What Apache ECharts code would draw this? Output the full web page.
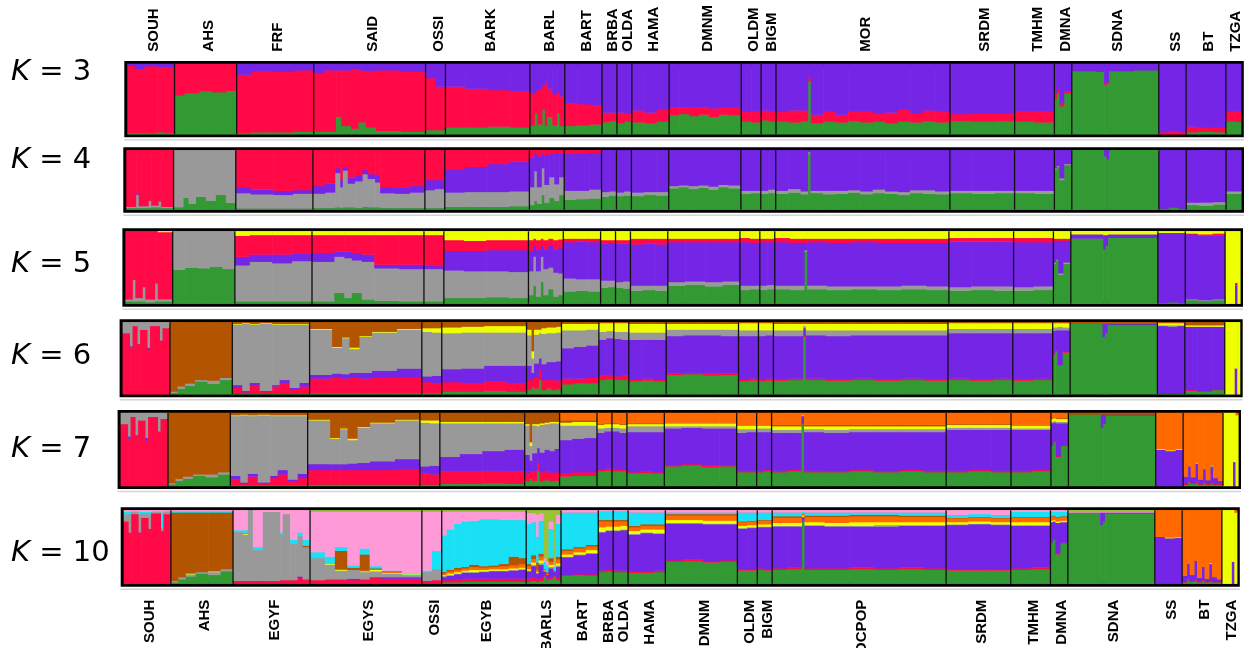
<!DOCTYPE html>
<html><head><meta charset="utf-8">
<script src="https://cdn.jsdelivr.net/npm/echarts@6/dist/echarts.min.js"></script>
<style>html,body{margin:0;padding:0;background:#fff;}#c{width:1246px;height:648px;}</style>
</head><body><div id="c"></div>
<script>
// ---------- data ----------
const populationsTop = ['SOUH','AHS','FRF','SAID','OSSI','BARK','BARL','BART','BRBA','OLDA','HAMA','DMNM','OLDM','BIGM','MOR','SRDM','TMHM','DMNA','SDNA','SS','BT','TZGA'];
const populationsBottom = ['SOUH','AHS','EGYF','EGYS','OSSI','EGYB','BARLS','BART','BRBA','OLDA','HAMA','DMNM','OLDM','BIGM','OCPOP','SRDM','TMHM','DMNA','SDNA','SS','BT','TZGA'];
const sampleSizes = [19,25,31,45,8,34,14,15,6,6,15,29,8,6,70,26,16,7,35,11,16,6];
const kValues = [3,4,5,6,7,10];
const clusterColors = {green:'#339933', red:'#FF0A47', purple:'#7425E6', gray:'#999999', yellow:'#EEFF00', brown:'#B35400', orange:'#FF6A00', pink:'#FF9AD9', cyan:'#19E0F5', olive:'#9BC136'};

// stacking order (bottom -> top) of the clusters for each K
const orderK3 = ['green','red','purple'];
const orderK4 = ['green','gray','purple','red'];
const orderK5 = ['green','gray','purple','red','yellow'];
const orderK6 = ['green','red','purple','gray','yellow','brown'];
const orderK7 = ['green','red','purple','gray','yellow','brown','orange'];
const orderK10 = ['green','red','purple','gray','yellow','orange','brown','cyan','pink','olive'];

// per population: runs of individuals [count, q1..qK]
const blocksK3 = [
 [[3,.02,.96,.02],[4,.02,.90,.08],[5,.02,.95,.03],[3,.03,.92,.05],[4,.02,.94,.04]],
 [[4,.55,.45,0],[6,.58,.42,0],[5,.61,.39,0],[6,.60,.40,0],[4,.62,.38,0]],
 [[6,.02,.83,.15],[8,.03,.87,.10],[9,.03,.86,.11],[8,.04,.87,.09]],
 [[4,.04,.83,.13],[5,.04,.87,.09],[2,.25,.66,.09],[4,.12,.79,.09],[3,.08,.84,.08],[3,.17,.74,.09],[4,.1,.8,.1],[10,.05,.86,.09],[10,.04,.85,.11]],
 [[4,.06,.74,.20],[4,.06,.62,.32]],
 [[8,.10,.58,.32],[9,.1,.55,.35],[9,.11,.52,.37],[8,.1,.52,.38]],
 [[2,.12,.47,.41],[1,.3,.3,.4],[2,.14,.5,.36],[1,.35,.35,.3],[1,.12,.62,.26],[2,.25,.4,.35],[2,.13,.44,.43],[1,.3,.3,.4],[2,.12,.42,.46]],
 [[5,.12,.32,.56],[5,.13,.30,.57],[5,.14,.28,.58]],
 [[3,.17,.14,.69],[3,.19,.12,.69]],
 [[3,.16,.15,.69],[3,.18,.12,.70]],
 [[5,.17,.17,.66],[5,.16,.15,.69],[5,.18,.17,.65]],
 [[4,.27,.11,.62],[4,.29,.09,.62],[4,.26,.13,.61],[4,.28,.1,.62],[4,.25,.12,.63],[4,.28,.11,.61],[5,.27,.12,.61]],
 [[4,.18,.14,.68],[4,.17,.16,.67]],
 [[3,.2,.14,.66],[3,.18,.15,.67]],
 [[5,.18,.14,.68],[5,.17,.17,.66],[3,.19,.15,.66],[1,.75,.05,.2],[5,.16,.12,.72],[5,.18,.15,.67],[5,.17,.11,.72],[5,.19,.14,.67],[5,.17,.16,.67],[5,.18,.12,.70],[5,.16,.15,.69],[5,.18,.17,.65],[5,.17,.13,.70],[5,.19,.15,.66],[6,.17,.16,.67]],
 [[9,.19,.10,.71],[9,.18,.12,.70],[8,.19,.11,.70]],
 [[8,.18,.15,.67],[8,.17,.16,.67]],
 [[1,.5,.08,.42],[1,.58,.06,.36],[2,.4,.05,.55],[3,.58,.03,.39]],
 [[10,.90,0,.10],[3,.89,0,.11],[1,.7,.02,.28],[1,.72,.02,.26],[10,.9,0,.1],[10,.91,0,.09]],
 [[4,0,.03,.97],[4,0,.05,.95],[3,0,.03,.97]],
 [[5,.03,.08,.89],[6,.04,.06,.90],[5,.03,.07,.90]],
 [[6,.18,.15,.67]]
];
const blocksK4 = [
 [[4,.03,.02,0,.95],[1,.03,.22,.02,.73],[4,.03,.03,0,.94],[1,.03,.12,0,.85],[3,.04,.03,0,.93],[1,.04,.1,0,.86],[5,.03,.02,0,.95]],
 [[4,.04,.96,0,0],[2,.2,.8,0,0],[3,.1,.9,0,0],[4,.22,.78,0,0],[4,.15,.85,0,0],[4,.25,.75,0,0],[4,.12,.88,0,0]],
 [[6,.02,.26,.1,.62],[9,.02,.24,.08,.66],[8,.02,.23,.07,.68],[8,.02,.25,.06,.67]],
 [[5,.03,.24,.13,.60],[4,.03,.26,.15,.56],[2,.04,.58,.08,.30],[1,.03,.35,.12,.5],[2,.04,.62,.06,.28],[3,.04,.4,.1,.46],[3,.03,.45,.1,.42],[2,.05,.55,.07,.33],[3,.04,.48,.08,.4],[2,.04,.42,.12,.42],[6,.03,.25,.1,.62],[6,.03,.24,.1,.63],[6,.03,.26,.11,.6]],
 [[4,.03,.3,.17,.5],[4,.03,.32,.15,.5]],
 [[8,.05,.24,.39,.32],[9,.05,.25,.42,.28],[9,.05,.25,.47,.23],[8,.06,.25,.5,.19]],
 [[2,.08,.3,.5,.12],[1,.15,.5,.3,.05],[2,.1,.28,.52,.1],[1,.25,.45,.25,.05],[2,.12,.3,.5,.08],[2,.2,.35,.4,.05],[2,.15,.28,.52,.05],[2,.25,.3,.4,.05]],
 [[5,.17,.15,.62,.06],[5,.18,.14,.63,.05],[5,.19,.15,.62,.04]],
 [[3,.22,.08,.7,0],[3,.24,.07,.69,0]],
 [[3,.23,.06,.71,0],[3,.24,.07,.69,0]],
 [[5,.23,.06,.71,0],[5,.25,.05,.70,0],[5,.24,.06,.70,0]],
 [[4,.36,.04,.60,0],[4,.38,.03,.59,0],[4,.35,.05,.6,0],[4,.37,.04,.59,0],[4,.34,.05,.61,0],[4,.38,.04,.58,0],[5,.36,.05,.59,0]],
 [[4,.27,.05,.68,0],[4,.28,.04,.68,0]],
 [[3,.27,.05,.68,0],[3,.28,.06,.66,0]],
 [[5,.27,.05,.68,0],[5,.29,.06,.65,0],[3,.26,.05,.69,0],[1,.95,.02,.03,0],[5,.28,.04,.68,0],[5,.26,.06,.68,0],[5,.27,.05,.68,0],[5,.29,.04,.67,0],[5,.26,.05,.69,0],[5,.28,.06,.66,0],[5,.27,.04,.69,0],[5,.25,.05,.70,0],[5,.28,.05,.67,0],[5,.27,.06,.67,0],[6,.26,.05,.69,0]],
 [[9,.28,.04,.68,0],[9,.27,.05,.68,0],[8,.28,.04,.68,0]],
 [[8,.28,.04,.68,0],[8,.27,.05,.68,0]],
 [[1,.68,.02,.30,0],[1,.72,.02,.26,0],[2,.5,.03,.47,0],[3,.75,.02,.23,0]],
 [[13,1,0,0,0],[1,.9,0,.1,0],[1,.85,0,.15,0],[20,1,0,0,0]],
 [[4,.02,0,.98,0],[4,.04,0,.96,0],[3,.02,0,.98,0]],
 [[5,.08,.04,.88,0],[6,.07,.05,.88,0],[5,.09,.04,.87,0]],
 [[6,.27,.04,.69,0]]
];
const blocksK5 = [
 [[3,.03,.03,0,.94,0],[1,.03,.3,0,.67,0],[3,.03,.05,0,.92,0],[1,.03,.2,0,.77,0],[4,.02,.04,0,.94,0],[1,.03,.25,0,.72,0],[6,.03,.03,0,.93,.01]],
 [[5,.47,.53,0,0,0],[5,.5,.5,0,0,0],[5,.49,.51,0,0,0],[5,.51,.49,0,0,0],[5,.48,.52,0,0,0]],
 [[6,.03,.5,.12,.29,.06],[9,.03,.55,.1,.27,.05],[8,.03,.53,.12,.27,.05],[8,.03,.56,.1,.26,.05]],
 [[9,.03,.55,.12,.25,.05],[4,.15,.5,.07,.23,.05],[3,.08,.55,.09,.23,.05],[4,.15,.45,.1,.25,.05],[5,.06,.52,.1,.27,.05],[10,.04,.45,.05,.41,.05],[10,.03,.45,.06,.41,.05]],
 [[4,.03,.45,.05,.42,.05],[4,.03,.45,.04,.43,.05]],
 [[8,.08,.38,.27,.15,.12],[9,.08,.37,.28,.14,.13],[9,.09,.36,.29,.14,.12],[8,.08,.36,.3,.14,.12]],
 [[2,.12,.33,.28,.15,.12],[1,.25,.4,.15,.1,.1],[2,.1,.35,.3,.13,.12],[1,.3,.35,.15,.1,.1],[2,.12,.36,.27,.13,.12],[2,.2,.3,.3,.1,.1],[2,.1,.33,.32,.13,.12],[2,.12,.3,.35,.12,.11]],
 [[5,.17,.18,.5,.05,.1],[5,.18,.16,.52,.04,.1],[5,.17,.17,.51,.05,.1]],
 [[3,.22,.1,.51,.05,.12],[3,.23,.09,.52,.04,.12]],
 [[3,.22,.08,.53,.05,.12],[3,.21,.1,.52,.05,.12]],
 [[5,.18,.07,.57,.08,.1],[5,.19,.06,.58,.07,.1],[5,.18,.07,.57,.08,.1]],
 [[7,.25,.05,.55,.05,.1],[8,.26,.05,.54,.05,.1],[7,.24,.06,.55,.05,.1],[7,.26,.05,.54,.05,.1]],
 [[4,.19,.06,.6,.06,.09],[4,.2,.05,.59,.06,.1]],
 [[3,.19,.06,.6,.05,.1],[3,.2,.06,.59,.05,.1]],
 [[6,.2,.05,.6,.06,.09],[6,.19,.06,.59,.06,.1],[1,.72,.02,.1,.06,.1],[8,.2,.05,.6,.05,.1],[10,.19,.05,.6,.06,.1],[10,.2,.04,.61,.05,.1],[10,.19,.05,.6,.06,.1],[10,.2,.05,.59,.06,.1],[9,.19,.05,.6,.06,.1]],
 [[9,.18,.05,.63,.05,.09],[9,.19,.05,.62,.05,.09],[8,.18,.06,.62,.05,.09]],
 [[8,.18,.05,.62,.06,.09],[8,.19,.05,.61,.06,.09]],
 [[1,.55,.02,.3,.03,.1],[1,.6,.01,.26,.03,.1],[2,.4,.02,.45,.03,.1],[3,.55,.02,.3,.03,.1]],
 [[13,.9,0,.06,0,.04],[1,.75,0,.2,0,.05],[1,.8,0,.15,0,.05],[20,.91,0,.05,0,.04]],
 [[4,.01,0,.97,0,.02],[4,.02,0,.96,0,.02],[3,.01,0,.97,0,.02]],
 [[5,.05,.01,.9,.01,.03],[6,.04,.01,.89,.02,.04],[5,.05,.01,.88,.03,.03]],
 [[4,0,0,0,0,1],[1,0,0,.25,.04,.71],[1,0,0,0,0,1]]
];
const blocksK6 = [
 [[3,0,.85,0,.15,0,0],[1,0,.65,.02,.33,0,0],[2,0,.95,0,.05,0,0],[1,0,.7,0,.3,0,0],[3,0,.9,0,.1,0,0],[1,0,.62,.03,.35,0,0],[4,0,.95,0,.05,0,0],[1,0,.75,0,.25,0,0],[3,0,.92,0,.08,0,0]],
 [[3,.02,0,0,.02,0,.96],[3,.08,0,0,.03,0,.89],[4,.12,0,0,.03,0,.85],[5,.18,0,0,.02,0,.8],[5,.15,0,0,.04,0,.81],[5,.2,0,0,.03,0,.77]],
 [[4,.01,.08,.04,.84,.01,.02],[3,.01,.02,.02,.93,.01,.01],[4,.01,.12,.03,.81,.01,.02],[5,.01,.03,.01,.93,.01,.01],[3,.01,.1,.02,.84,.01,.02],[4,.01,.15,.04,.77,.01,.02],[4,.01,.06,.02,.88,.01,.02],[4,.01,.1,.05,.81,.01,.02]],
 [[9,.02,.2,.05,.63,.01,.09],[4,.02,.21,.06,.36,.01,.34],[3,.02,.2,.06,.5,.01,.21],[4,.02,.21,.07,.33,.02,.35],[5,.02,.2,.08,.5,.01,.19],[10,.02,.21,.1,.53,.01,.13],[10,.02,.22,.12,.54,.01,.09]],
 [[4,.02,.15,.08,.62,.05,.08],[4,.02,.14,.1,.6,.06,.08]],
 [[8,.04,.13,.18,.5,.08,.07],[9,.04,.12,.2,.5,.08,.06],[9,.05,.13,.22,.46,.09,.05],[8,.04,.12,.24,.46,.09,.05]],
 [[2,.06,.14,.2,.42,.08,.1],[1,.1,.1,.1,.2,.1,.4],[2,.08,.15,.2,.4,.07,.1],[1,.2,.15,.15,.35,.05,.1],[2,.06,.14,.22,.42,.08,.08],[2,.08,.12,.25,.4,.08,.07],[2,.06,.14,.25,.4,.08,.07],[2,.07,.12,.27,.4,.08,.06]],
 [[5,.14,.08,.42,.25,.09,.02],[5,.15,.07,.44,.23,.09,.02],[5,.15,.08,.45,.22,.08,.02]],
 [[3,.2,.06,.5,.11,.12,.01],[3,.21,.06,.51,.1,.11,.01]],
 [[3,.2,.05,.52,.1,.12,.01],[3,.2,.06,.5,.11,.12,.01]],
 [[5,.18,.03,.55,.1,.12,.02],[5,.19,.03,.54,.1,.12,.02],[5,.18,.03,.55,.1,.12,.02]],
 [[7,.27,.02,.52,.09,.08,.02],[8,.28,.02,.52,.08,.08,.02],[7,.26,.03,.53,.08,.08,.02],[7,.27,.02,.52,.09,.08,.02]],
 [[4,.18,.03,.6,.08,.1,.01],[4,.19,.03,.59,.08,.1,.01]],
 [[3,.18,.03,.6,.08,.1,.01],[3,.19,.03,.6,.07,.1,.01]],
 [[6,.19,.02,.6,.08,.09,.02],[6,.2,.02,.59,.08,.09,.02],[1,.8,.02,.1,.03,.03,.02],[8,.2,.02,.6,.07,.09,.02],[10,.19,.02,.6,.08,.09,.02],[10,.2,.02,.6,.07,.09,.02],[10,.19,.02,.61,.07,.09,.02],[10,.2,.02,.6,.07,.09,.02],[9,.19,.02,.61,.07,.09,.02]],
 [[9,.2,.02,.63,.06,.08,.01],[9,.19,.02,.64,.06,.08,.01],[8,.2,.02,.63,.06,.08,.01]],
 [[8,.19,.02,.64,.06,.08,.01],[8,.2,.02,.63,.06,.08,.01]],
 [[1,.55,.01,.32,.05,.06,.01],[1,.6,.01,.28,.04,.06,.01],[2,.4,.01,.48,.05,.05,.01],[3,.58,.01,.3,.04,.06,.01]],
 [[13,.98,0,0,0,0,.02],[1,.8,0,.18,0,0,.02],[1,.85,0,.13,0,0,.02],[20,.97,0,.01,0,0,.02]],
 [[4,.01,0,.94,.01,.03,.01],[4,.01,0,.93,.02,.03,.01],[3,.01,0,.94,.01,.03,.01]],
 [[5,.05,.01,.88,0,.02,.04],[6,.04,.01,.89,0,.02,.04],[5,.06,.01,.87,0,.02,.04]],
 [[4,0,0,0,0,1,0],[1,0,0,.36,0,.64,0],[1,0,0,0,0,1,0]]
];
const blocksK7 = [
 [[3,0,.85,0,.15,0,0,0],[1,0,.65,.03,.32,0,0,0],[2,0,.95,0,.05,0,0,0],[1,0,.7,0,.3,0,0,0],[3,0,.9,0,.1,0,0,0],[1,0,.62,.04,.34,0,0,0],[4,0,.95,0,.05,0,0,0],[1,0,.75,0,.25,0,0,0],[3,0,.92,0,.08,0,0,0]],
 [[3,.02,0,0,.02,0,.96,0],[3,.07,0,0,.03,0,.9,0],[4,.1,0,0,.03,0,.87,0],[5,.14,0,0,.02,0,.84,0],[5,.12,0,0,.04,0,.84,0],[5,.16,0,0,.03,0,.81,0]],
 [[4,.01,.08,.05,.82,.01,.03,0],[3,.01,.02,.02,.92,.01,.02,0],[4,.01,.12,.04,.79,.01,.03,0],[5,.01,.03,.01,.92,.01,.02,0],[3,.01,.1,.03,.82,.01,.03,0],[4,.01,.15,.06,.74,.01,.03,0],[4,.01,.06,.02,.87,.01,.03,0],[4,.01,.1,.06,.79,.01,.03,0]],
 [[9,.02,.2,.08,.6,.01,.09,0],[4,.02,.2,.08,.35,.01,.34,0],[3,.02,.2,.08,.48,.01,.21,0],[4,.02,.2,.09,.32,.02,.35,0],[5,.02,.2,.1,.48,.01,.19,0],[10,.02,.2,.12,.52,.01,.13,0],[10,.02,.21,.14,.53,.01,.09,0]],
 [[4,.02,.15,.1,.6,.03,.1,0],[4,.02,.14,.12,.58,.04,.1,0]],
 [[8,.03,.17,.2,.46,.02,.12,0],[9,.03,.17,.24,.42,.02,.12,0],[9,.04,.17,.27,.38,.02,.12,0],[8,.03,.17,.3,.36,.02,.12,0]],
 [[2,.06,.12,.25,.4,.02,.15,0],[1,.1,.1,.15,.2,.05,.4,0],[2,.07,.13,.25,.38,.02,.15,0],[1,.2,.12,.2,.3,.03,.15,0],[2,.06,.13,.27,.38,.02,.14,0],[2,.08,.12,.3,.35,.02,.13,0],[2,.06,.12,.3,.38,.02,.12,0],[2,.07,.12,.32,.35,.02,.12,0]],
 [[5,.13,.05,.45,.2,.04,.03,.1],[5,.14,.05,.46,.18,.05,.02,.1],[5,.14,.05,.47,.17,.05,.02,.1]],
 [[3,.2,.03,.5,.06,.05,.01,.15],[3,.21,.03,.51,.05,.05,.01,.14]],
 [[3,.2,.03,.52,.05,.05,.01,.14],[3,.2,.03,.5,.06,.05,.01,.15]],
 [[5,.17,.02,.55,.08,.03,.01,.14],[5,.18,.02,.54,.08,.03,.01,.14],[5,.17,.02,.55,.08,.03,.01,.14]],
 [[7,.27,.02,.5,.03,.04,.01,.13],[8,.28,.02,.5,.02,.04,.01,.13],[7,.26,.02,.51,.03,.04,.01,.13],[7,.27,.02,.5,.03,.04,.01,.13]],
 [[4,.19,.02,.52,.05,.05,.01,.16],[4,.19,.02,.53,.04,.05,.01,.16]],
 [[3,.19,.02,.53,.05,.04,.01,.16],[3,.2,.02,.52,.05,.04,.01,.16]],
 [[6,.19,.02,.52,.04,.05,.02,.16],[6,.2,.02,.51,.04,.05,.02,.16],[1,.85,.01,.1,0,.01,0,.03],[8,.19,.02,.53,.04,.04,.02,.16],[10,.19,.02,.52,.04,.05,.02,.16],[10,.2,.02,.52,.04,.04,.02,.16],[10,.19,.02,.53,.04,.04,.02,.16],[10,.2,.02,.52,.04,.04,.02,.16],[9,.19,.02,.53,.04,.04,.02,.16]],
 [[9,.19,.02,.56,.03,.04,.01,.15],[9,.2,.02,.55,.03,.04,.01,.15],[8,.19,.02,.56,.03,.04,.01,.15]],
 [[8,.19,.02,.56,.02,.04,.01,.16],[8,.2,.02,.55,.02,.04,.01,.16]],
 [[1,.55,.01,.3,.02,.04,.01,.07],[1,.6,.01,.26,.02,.04,.01,.06],[2,.4,.01,.45,.02,.04,.01,.07],[3,.55,.01,.3,.02,.04,.01,.07]],
 [[13,.98,0,0,0,0,.02,0],[1,.8,0,.18,0,0,.02,0],[1,.85,0,.13,0,0,.02,0],[20,.97,0,.01,0,0,.02,0]],
 [[4,0,0,.5,0,.01,0,.49],[4,0,0,.48,0,.01,0,.51],[3,0,0,.5,0,.01,0,.49]],
 [[2,.02,.01,.1,0,0,0,.87],[1,.05,.02,.2,0,0,0,.73],[2,.03,.01,.08,0,0,0,.88],[1,.04,.02,.25,0,.01,0,.68],[2,.02,.01,.06,0,0,0,.91],[1,.04,.01,.18,0,0,0,.77],[2,.02,.01,.05,0,0,0,.92],[1,.03,.02,.22,0,.01,0,.72],[2,.02,.01,.08,0,0,0,.89],[2,.02,.01,.04,0,0,0,.93]],
 [[4,0,0,0,0,1,0,0],[1,0,0,.33,0,.67,0,0],[1,0,0,0,0,.97,0,.03]]
];
const blocksK10 = [
 [[2,0,.85,0,.1,0,0,0,.03,.02,0],[1,0,.7,0,.25,0,0,0,.03,.02,0],[3,0,.95,0,.03,0,0,0,.01,.01,0],[1,0,.68,.02,.25,0,0,0,.03,.02,0],[3,0,.9,0,.06,0,0,0,.02,.02,0],[1,0,.75,0,.2,0,0,0,.03,.02,0],[4,0,.96,0,.02,0,0,0,.01,.01,0],[1,0,.72,0,.05,0,0,0,.2,.03,0],[3,0,.95,0,.03,0,0,0,.01,.01,0]],
 [[3,.02,0,0,.02,0,0,.93,.02,.01,0],[3,.06,0,0,.03,0,0,.88,.02,.01,0],[4,.1,0,0,.03,.01,0,.83,.02,.01,0],[5,.14,0,0,.02,0,0,.81,.02,.01,0],[5,.12,0,0,.04,.01,0,.8,.02,.01,0],[5,.17,0,0,.03,0,0,.77,.02,.01,0]],
 [[4,0,.04,0,.67,0,0,0,.02,.27,0],[2,0,.04,0,.63,.01,.01,0,.04,.27,0],[2,0,.04,0,.96,0,0,0,0,0,0],[4,0,.04,0,.42,0,0,0,.04,.5,0],[7,0,.04,0,.94,0,0,0,0,.02,0],[1,0,.05,0,.62,0,0,0,.03,.3,0],[3,0,.05,0,.9,0,0,0,0,.05,0],[3,0,.05,0,.5,0,0,0,.05,.4,0],[2,0,.08,.02,.55,0,0,0,.05,.3,0],[3,0,.06,0,.44,0,0,.02,.08,.4,0]],
 [[6,0,.05,0,.3,0,0,0,.08,.55,.02],[4,0,.06,0,.2,.01,0,0,.1,.61,.02],[5,0,.06,0,.12,.01,.01,.25,.05,.48,.02],[5,0,.05,.02,.12,0,0,.03,.03,.73,.02],[4,0,.06,0,.1,.01,.01,.22,.08,.5,.02],[5,0,.08,.01,.08,.02,.01,.01,.03,.74,.02],[8,0,.07,.02,.05,.01,.01,.01,.01,.80,.02],[8,0,.07,.02,.03,.01,0,0,.01,.84,.02]],
 [[4,0,.04,0,.12,0,0,0,.02,.8,.02],[4,0,.05,0,.15,0,0,0,.25,.53,.02]],
 [[2,.02,.03,.04,.02,.01,.02,.02,.5,.32,.02],[3,.02,.03,.06,.01,.02,.03,.02,.55,.24,.02],[3,.02,.04,.07,.01,.02,.03,.03,.6,.16,.02],[3,.03,.04,.08,.01,.02,.03,.02,.62,.13,.02],[4,.03,.04,.08,.01,.03,.04,.03,.6,.12,.02],[4,.03,.04,.09,.01,.02,.03,.02,.64,.1,.02],[4,.03,.04,.1,.01,.02,.03,.02,.63,.1,.02],[4,.03,.04,.1,.01,.02,.04,.03,.6,.11,.02],[4,.03,.04,.11,.01,.02,.04,.12,.5,.11,.02],[3,.03,.04,.12,.01,.02,.05,.08,.52,.11,.02]],
 [[2,.03,.04,.1,.01,.02,.04,.03,.55,.15,.03],[2,.04,.05,.15,.02,.03,.05,.05,.45,.12,.04],[1,.03,.03,.08,.01,.01,.03,.1,.35,.3,.06],[2,.04,.04,.18,.02,.04,.05,.04,.45,.1,.04],[1,.1,.02,.05,0,.01,.01,.01,.1,.05,.65],[1,.05,.02,.05,0,0,.02,.02,.1,.05,.69],[2,.06,.03,.12,.02,.03,.04,.05,.4,.1,.15],[1,.1,.02,.04,0,0,.01,.01,.05,.03,.74],[2,.05,.03,.15,.02,.03,.05,.04,.45,.12,.06]],
 [[5,.11,.01,.24,.01,.03,.05,.02,.5,.03,0],[5,.12,.01,.26,.01,.03,.05,.02,.47,.03,0],[5,.11,.02,.28,.01,.04,.05,.02,.44,.03,0]],
 [[3,.16,.02,.52,.01,.06,.08,.02,.12,.01,0],[3,.17,.02,.53,.01,.05,.07,.02,.12,.01,0]],
 [[3,.16,.02,.54,.01,.05,.07,.02,.12,.01,0],[3,.16,.02,.55,.01,.05,.06,.02,.12,.01,0]],
 [[5,.15,.02,.5,.01,.04,.05,.02,.18,.03,0],[5,.15,.02,.52,.01,.04,.05,.02,.16,.03,0],[5,.16,.02,.5,.01,.05,.05,.02,.16,.03,0]],
 [[7,.3,.02,.5,.01,.04,.06,.02,.02,.03,0],[8,.31,.02,.49,.01,.04,.06,.02,.02,.03,0],[7,.29,.02,.5,.01,.04,.07,.02,.02,.03,0],[7,.3,.02,.49,.01,.04,.07,.02,.02,.03,0]],
 [[4,.18,.02,.55,.01,.03,.05,.01,.12,.03,0],[4,.18,.02,.56,.01,.03,.05,.01,.11,.03,0]],
 [[3,.19,.02,.56,.01,.03,.05,.01,.1,.03,0],[3,.18,.02,.57,.01,.03,.05,.01,.1,.03,0]],
 [[6,.19,.02,.57,.01,.04,.07,.02,.05,.03,0],[6,.2,.02,.56,.01,.04,.07,.02,.05,.03,0],[1,.85,.01,.05,0,.02,.03,0,.02,.02,0],[8,.19,.02,.58,.01,.04,.07,.02,.04,.03,0],[10,.19,.02,.57,.01,.04,.08,.02,.04,.03,0],[10,.2,.02,.56,.01,.05,.08,.02,.03,.03,0],[10,.19,.02,.57,.02,.04,.08,.02,.03,.03,0],[10,.2,.02,.57,.01,.04,.07,.02,.04,.03,0],[9,.19,.02,.58,.01,.04,.07,.02,.04,.03,0]],
 [[9,.18,.02,.6,.01,.03,.05,.01,.04,.06,0],[9,.18,.02,.61,.01,.03,.05,.01,.04,.05,0],[8,.18,.02,.6,.01,.03,.05,.01,.04,.06,0]],
 [[8,.19,.02,.58,.01,.04,.06,.01,.07,.02,0],[8,.2,.02,.57,.01,.04,.06,.01,.07,.02,0]],
 [[1,.55,.01,.28,0,.02,.05,.01,.06,.02,0],[1,.6,.01,.24,0,.02,.05,.01,.05,.02,0],[2,.4,.01,.42,0,.02,.05,.01,.07,.02,0],[3,.55,.01,.28,0,.02,.05,.01,.06,.02,0]],
 [[13,.97,0,0,0,0,0,0,0,.01,.02],[1,.8,0,.17,0,0,0,0,0,.01,.02],[1,.85,0,.12,0,0,0,0,0,.01,.02],[20,.96,0,.01,0,0,0,0,0,.01,.02]],
 [[4,0,0,.64,0,0,.36,0,0,0,0],[4,0,0,.62,0,.01,.37,0,0,0,0],[3,0,0,.63,0,.01,.36,0,0,0,0]],
 [[2,.02,.01,.08,0,0,.89,0,0,0,0],[1,.05,.02,.2,0,0,.73,0,0,0,0],[2,.03,.01,.08,0,0,.88,0,0,0,0],[1,.04,.02,.25,0,0,.69,0,0,0,0],[2,.02,.01,.05,0,0,.92,0,0,0,0],[1,.04,.01,.18,0,0,.77,0,0,0,0],[2,.02,.01,.04,0,0,.93,0,0,0,0],[1,.03,.02,.22,0,.01,.72,0,0,0,0],[2,.02,.01,.06,0,0,.91,0,0,0,0],[2,.02,.01,.03,0,0,.94,0,0,0,0]],
 [[4,0,0,0,0,1,0,0,0,0,0],[1,0,0,.3,0,.7,0,0,0,0,0],[1,0,0,0,0,.97,.03,0,0,0,0]]
];

// ---------- layout (plot areas of the six panels) ----------
const panelBoxes = [
  {left:127.3, right:5.2, top:64,    height:70.3},
  {left:126.3, right:5.0, top:150.3, height:59.4},
  {left:125.4, right:6.0, top:231.3, height:72.4},
  {left:122.6, right:6.3, top:322.3, height:72},
  {left:120.6, right:8.0, top:413,   height:73},
  {left:123.7, right:9.2, top:510.3, height:73.4}
];
const kLabelY = [72, 160, 264, 356, 449, 553];

const orders = [orderK3, orderK4, orderK5, orderK6, orderK7, orderK10];
const blockSets = [blocksK3, blocksK4, blocksK5, blocksK6, blocksK7, blocksK10];

const total = sampleSizes.reduce((a,b)=>a+b,0);
const starts = [];
{ let acc = 0; sampleSizes.forEach(n => { starts.push(acc); acc += n; }); }

function buildSegments(blocks){
  const out = [];
  blocks.forEach((popBlocks, p) => {
    const W = popBlocks.reduce((a,b)=>a+b[0],0);
    let cw = 0;
    popBlocks.forEach(b => {
      const x0 = starts[p] + cw / W * sampleSizes[p];
      cw += b[0];
      const x1 = starts[p] + cw / W * sampleSizes[p];
      out.push([x0, x1].concat(b.slice(1)));
    });
  });
  return out;
}

const grids = [], xAxes = [], yAxes = [], series = [];
panelBoxes.forEach((b, i) => {
  grids.push({left:b.left, right:b.right, top:b.top, height:b.height, show:true, borderColor:'#000', borderWidth:6, backgroundColor:'#fff'});
  xAxes.push({type:'value', gridIndex:i, min:0, max:total, show:false});
  yAxes.push({type:'value', gridIndex:i, min:0, max:1, show:false});
  const cols = orders[i].map(c => clusterColors[c]);
  const K = cols.length;
  series.push({
    type:'custom', xAxisIndex:i, yAxisIndex:i, silent:true,
    encode:{x:[0,1], y:[2]},
    data: buildSegments(blockSets[i]),
    renderItem(params, api){
      const x0 = api.value(0), x1 = api.value(1);
      let s = 0; const v = [];
      for (let k = 0; k < K; k++){ v.push(api.value(2+k)); s += v[k]; }
      const children = []; let acc = 0;
      for (let k = 0; k < K; k++){
        const q = v[k] / s;
        if (q <= 0) continue;
        const p0 = api.coord([x0, acc]), p1 = api.coord([x1, acc + q]);
        children.push({type:'rect', shape:{x:p0[0], y:p1[1]-0.25, width:p1[0]-p0[0]+0.6, height:p0[1]-p1[1]+0.5}, style:{fill:cols[k]}});
        acc += q;
      }
      return {type:'group', children};
    }
  });
  // population separators
  series.push({
    type:'custom', xAxisIndex:i, yAxisIndex:i, silent:true, z:5,
    data: starts.slice(1).map(s => [s]),
    renderItem(params, api){
      const a = api.coord([api.value(0), 0]), c = api.coord([api.value(0), 1]);
      return {type:'line', shape:{x1:a[0], y1:a[1], x2:c[0], y2:c[1]}, style:{stroke:'#111', lineWidth:1.3}};
    }
  });
  // faint shadow line under the panel
  series.push({
    type:'custom', xAxisIndex:i, yAxisIndex:i, silent:true, clip:false, z:1,
    data: [[0]],
    renderItem(params, api){
      const a = api.coord([0, 0]), c = api.coord([total, 0]);
      return {type:'line', shape:{x1:a[0]-3, y1:a[1]+5.5, x2:c[0]+3, y2:c[1]+5.5}, style:{stroke:'#d4d4d4', lineWidth:1.5}};
    }
  });
});

const centers = sampleSizes.map((n, p) => [starts[p] + n/2, p]);
function labelSeries(gridIdx, names, top){
  return {
    type:'custom', xAxisIndex:gridIdx, yAxisIndex:gridIdx, silent:true, clip:false, z:10,
    data: centers,
    renderItem(params, api){
      const c = api.coord([api.value(0), top ? 1 : 0]);
      return {type:'text', x:c[0] + 3, y: top ? c[1] - 12.3 : c[1] + 16,
        rotation: Math.PI/2,
        style:{text:names[api.value(1)], fontSize:15, fontWeight:'bold', fontFamily:'Arial', fill:'#000', align: top ? 'left' : 'right', verticalAlign:'middle'}};
    }
  };
}
series.push(labelSeries(0, populationsTop, true));
series.push(labelSeries(5, populationsBottom, false));

const graphics = kValues.map((k, i) => ({
  type:'text', x:11, y:kLabelY[i], z:10,
  style:{text:'{k|K}{n| = ' + k + '}', verticalAlign:'middle', fill:'#000',
    rich:{k:{fontStyle:'italic', fontSize:29, fontFamily:'DejaVu Sans', fill:'#000'}, n:{fontSize:29, fontFamily:'DejaVu Sans', fill:'#000'}}}
}));

const chart = echarts.init(document.getElementById('c'), null, {renderer:'canvas'});
chart.setOption({animation:false, backgroundColor:'#fff', grid:grids, xAxis:xAxes, yAxis:yAxes, series, graphic:graphics});
</script></body></html>
